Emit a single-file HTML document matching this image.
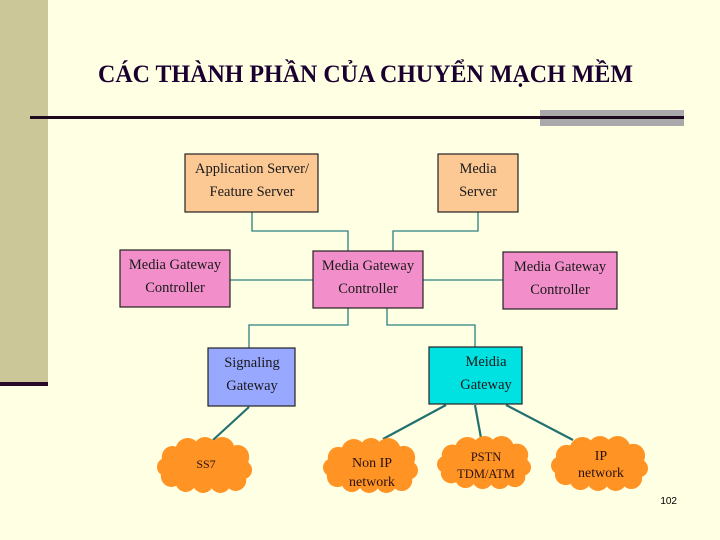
<!DOCTYPE html>
<html><head><meta charset="utf-8"><style>
body{margin:0;width:720px;height:540px;overflow:hidden;background:#ffffe3;}
svg{display:block}
</style></head><body>
<svg width="720" height="540" viewBox="0 0 720 540" xmlns="http://www.w3.org/2000/svg">
<defs>
<symbol id="cl" viewBox="0 0 100 56" preserveAspectRatio="none">
<g fill="#ff9424">
<ellipse cx="50" cy="29" rx="46" ry="22"/>
<circle cx="16" cy="20" r="11"/><circle cx="32" cy="14" r="13"/><circle cx="50" cy="12" r="12"/><circle cx="68" cy="13" r="13"/><circle cx="84" cy="20" r="12"/>
<circle cx="90" cy="33" r="9"/><circle cx="82" cy="43" r="11"/><circle cx="66" cy="45" r="11"/><circle cx="48" cy="45" r="11"/><circle cx="30" cy="44" r="11"/><circle cx="15" cy="39" r="11"/><circle cx="9" cy="30" r="9"/>
</g></symbol>
</defs>
<rect x="0" y="0" width="48" height="382" fill="#cbc799"/>
<rect x="0" y="382" width="48" height="4" fill="#2a0a2a"/>
<text x="98" y="82" textLength="535" lengthAdjust="spacingAndGlyphs" font-weight="bold" font-family="Liberation Serif,serif" font-size="25" fill="#1a0030">CÁC THÀNH PHẦN CỦA CHUYỂN MẠCH MỀM</text>
<rect x="540" y="110" width="144" height="16" fill="#a9a8ab"/>
<rect x="30" y="116" width="654" height="3" fill="#1e0a1e"/>
<g stroke="#2a8080" stroke-width="1.3" fill="none">
<polyline points="252,212 252,231 348,231 348,251"/>
<polyline points="478,212 478,231 393,231 393,251"/>
<line x1="230" y1="280" x2="313" y2="280"/>
<line x1="423" y1="280" x2="503" y2="280"/>
<polyline points="348,308 348,325 249,325 249,348"/>
<polyline points="387,308 387,325 475,325 475,347"/>
</g>
<g stroke="#237070" stroke-width="2.2">
<line x1="249" y1="407" x2="213" y2="440"/>
<line x1="446" y1="405" x2="383" y2="439"/>
<line x1="475" y1="405" x2="481" y2="438"/>
<line x1="506" y1="405" x2="573" y2="440"/>
</g>
<g stroke="#222" stroke-width="1.2">
<rect x="185" y="154" width="133" height="58" fill="#fcc995"/>
<rect x="438" y="154" width="80" height="58" fill="#fcc995"/>
<rect x="120" y="250" width="110" height="57" fill="#f28fcb"/>
<rect x="313" y="251" width="110" height="57" fill="#f28fcb"/>
<rect x="503" y="252" width="114" height="57" fill="#f28fcb"/>
<rect x="208" y="348" width="87" height="58" fill="#98a8ff"/>
<rect x="429" y="347" width="93" height="57" fill="#00e2e2"/>
</g>
<g font-family="Liberation Serif,serif" font-size="14.5" text-anchor="middle" fill="#1a1a1a">
<text x="252" y="173">Application Server/</text><text x="252" y="196">Feature Server</text>
<text x="478" y="173">Media</text><text x="478" y="196">Server</text>
<text x="175" y="269">Media Gateway</text><text x="175" y="292">Controller</text>
<text x="368" y="270">Media Gateway</text><text x="368" y="293">Controller</text>
<text x="560" y="271">Media Gateway</text><text x="560" y="294">Controller</text>
<text x="252" y="367">Signaling</text><text x="252" y="390">Gateway</text>
<text x="486" y="366">Meidia</text><text x="486" y="389">Gateway</text>
</g>
<use href="#cl" x="157" y="437" width="96" height="56"/>
<use href="#cl" x="323" y="438" width="96" height="55"/>
<use href="#cl" x="437" y="436" width="95" height="53"/>
<use href="#cl" x="551" y="436" width="98" height="55"/>
<g font-family="Liberation Serif,serif" text-anchor="middle" fill="#2a1010">
<text x="206" y="468" font-size="12">SS7</text>
<text x="372" y="467" font-size="14">Non IP</text><text x="372" y="486" font-size="14">network</text>
<text x="486" y="461" font-size="12.5">PSTN</text><text x="486" y="478" font-size="12.5">TDM/ATM</text>
<text x="601" y="460" font-size="14">IP</text><text x="601" y="477" font-size="14">network</text>
</g>
<text x="677" y="504" text-anchor="end" font-family="Liberation Sans,sans-serif" font-size="10" fill="#000">102</text>
</svg>
</body></html>
